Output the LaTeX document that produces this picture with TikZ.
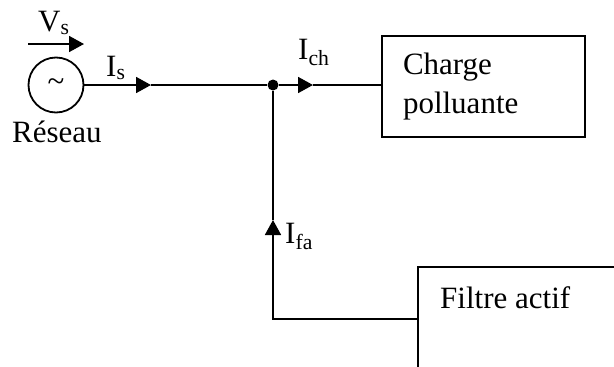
\documentclass[tikz,border=0pt]{standalone}
\usepackage{fontspec}
\setmainfont{Liberation Serif}
\usetikzlibrary{arrows.meta, positioning}
\tikzset{
    texte/.style={inner sep=0pt, anchor=base west, font=\fontsize{31}{39}\selectfont},
    boite/.style={draw=black, line width=1.8pt, font=\fontsize{31}{39}\selectfont},
    fil/.style={draw=black, line width=1.8pt},
    fleche/.style={fil, -{Triangle[length=15pt, width=16pt]}}
}

\begin{document}
\begin{tikzpicture}[x=1pt, y=-1pt]
    \useasboundingbox (0,0) rectangle (614,367);
    \clip (0,0) rectangle (614,367);

    \node[boite, circle, minimum size=55pt, inner sep=0pt] (reseau) at (56,85) {\textasciitilde};
    \node[circle, fill=black, minimum size=11pt, inner sep=0pt] (jonction) at (273,85) {};
    \node[boite, minimum width=203pt, minimum height=101pt, inner xsep=21pt,
          text width=161pt, align=left] (charge) at (483.5,86.5) {Charge\\polluante};
    \node[boite, minimum width=222pt, minimum height=104pt] (filtre) at (529,319) {};

    \coordinate (pointeIs) at (151,85);
    \coordinate (pointeIch) at (313,85);
    \coordinate (pointeIfa) at (273,220);
    \coordinate (debutVs) at (28,44);
    \coordinate (finVs) at (84,44);
    \coordinate (coude) at (jonction |- filtre.west);

    \draw[fleche] (reseau) -- (pointeIs);
    \draw[fil] (pointeIs) -- (jonction);
    \draw[fleche] (jonction) -- (pointeIch);
    \draw[fil] (pointeIch) -- (jonction -| charge.west);
    \draw[fleche] (filtre.west) -- (coude) -- (pointeIfa);
    \draw[fil] (pointeIfa) -- (jonction);
    \draw[fleche] (debutVs) -- (finVs);

    \node[texte] (labelVs) at (38,31) {V\textsubscript{s}};
    \node[texte] (labelIs) at (106,76) {I\textsubscript{s}};
    \node[texte] (labelIch) at (298,59) {I\textsubscript{ch}};
    \node[texte] (labelIfa) at (285,243) {I\textsubscript{fa}};
    \node[texte] (labelReseau) at (12,142) {Réseau};
    \node[texte] (labelFiltre) at (440,308) {Filtre actif};
\end{tikzpicture}
\end{document}
